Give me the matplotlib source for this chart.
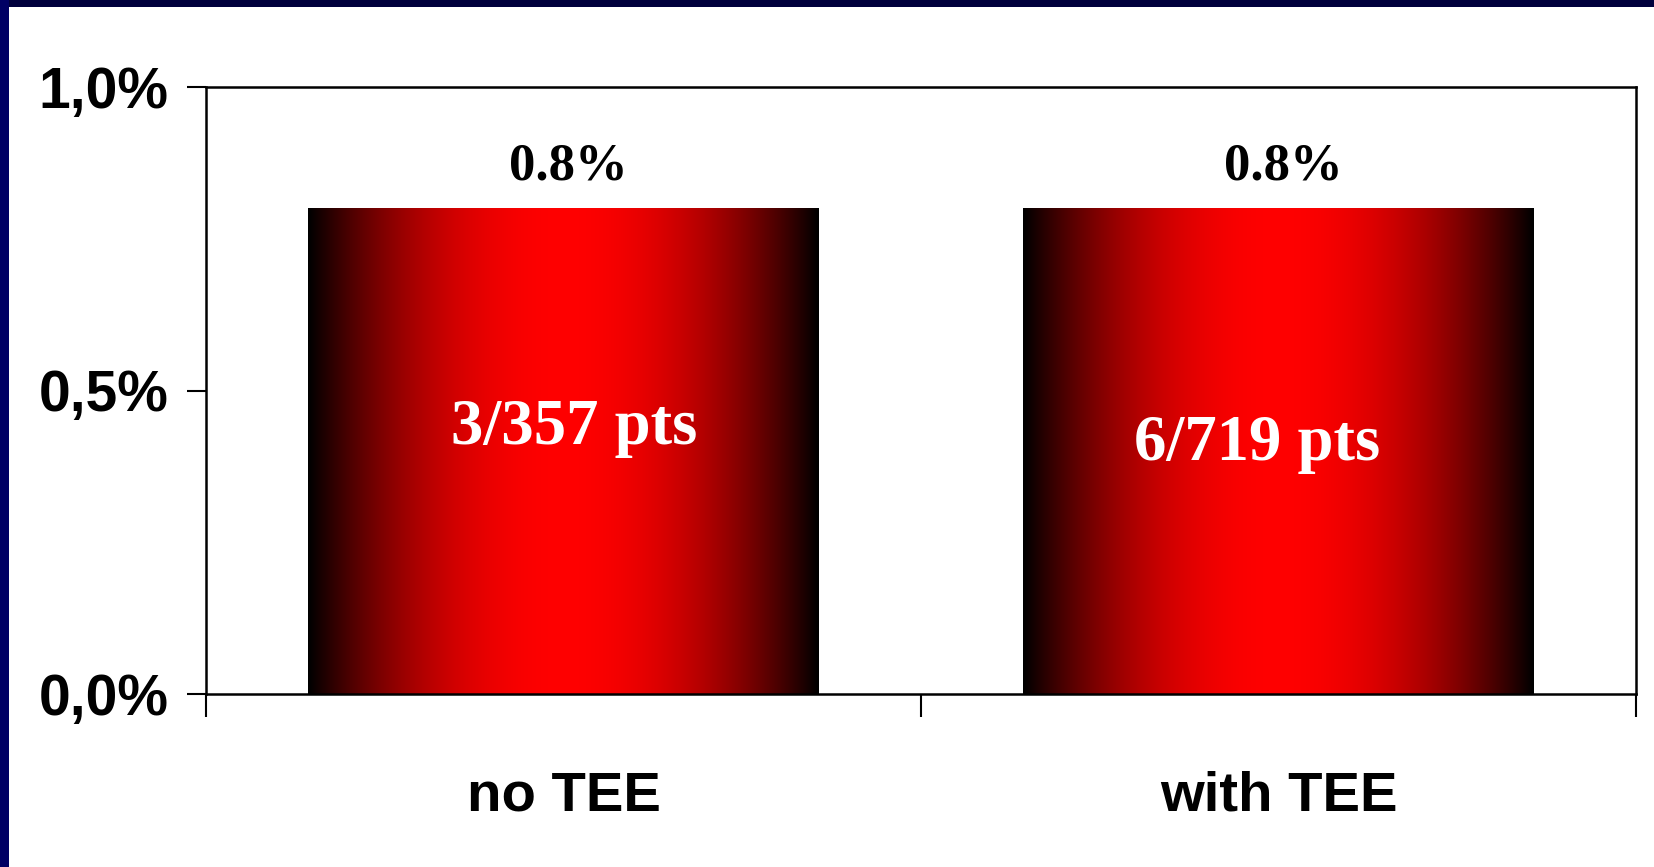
import matplotlib.pyplot as plt
import numpy as np
from matplotlib.patches import Rectangle

# event rate per group (percent)
categories = ["no TEE", "with TEE"]
rates = [0.8, 0.8]
counts = ["3/357 pts", "6/719 pts"]
y_ticks = [0.0, 0.5, 1.0]
y_tick_labels = ["0,0%", "0,5%", "1,0%"]

SANS = "Liberation Sans"
SERIF = "Liberation Serif"

fig = plt.figure(figsize=(16.54, 8.67), dpi=100)
fig.patch.set_facecolor("white")

# dark frame along top and left edge
fig.patches.append(Rectangle((0, 1 - 7 / 867), 1, 7 / 867, transform=fig.transFigure,
                             facecolor="#00003c", edgecolor="none", zorder=0))
fig.patches.append(Rectangle((0, 0), 9 / 1654, 1, transform=fig.transFigure,
                             facecolor="#000064", edgecolor="none", zorder=0))

ax = fig.add_axes([206 / 1654, 1 - 694 / 867, 1430 / 1654, 607 / 867])
x = np.arange(len(categories))
bars = ax.bar(x, rates, width=0.714, color="none", edgecolor="none")

# horizontal shading: black at the edges, red in the middle
s = np.linspace(-1, 1, 512)
t = 1 - np.abs(s)
grad = np.zeros((1, len(s), 3))
grad[0, :, 0] = 1 - (1 - t) ** 2
for b in bars:
    x0, w, h = b.get_x(), b.get_width(), b.get_height()
    im = ax.imshow(grad, extent=[x0, x0 + w, 0, h], aspect="auto",
                   interpolation="bilinear", zorder=2)
    im.set_clip_path(b)

ax.set_xlim(-0.5, 1.5)
ax.set_ylim(0, 1.0)

# value above each bar and counts inside
inner_pos = [(0.015, 0.412), (-0.03, 0.385)]
for i, (r, c) in enumerate(zip(rates, counts)):
    ax.text(x[i] + 0.007, r + 0.047, f"{r:.1f}%", ha="center", va="baseline",
            fontsize=38, fontweight="bold", family=SERIF, color="black", zorder=3)
    dx, yy = inner_pos[i]
    ax.text(x[i] + dx, yy, c, ha="center", va="baseline",
            fontsize=46.5, fontweight="bold", family=SERIF, color="white", zorder=3)

ax.set_yticks(y_ticks)
ax.set_yticklabels(y_tick_labels, fontsize=41, fontweight="bold", family=SANS)
ax.tick_params(axis="y", direction="out", length=14, width=1.5, pad=13)

# category boundaries as major ticks, names on minor ticks
ax.set_xticks([-0.5, 0.5, 1.5])
ax.set_xticklabels([])
ax.set_xticks(x, minor=True)
ax.set_xticklabels(categories, minor=True, fontsize=40.5, fontweight="bold", family=SANS)
ax.tick_params(axis="x", which="major", direction="out", length=16.5, width=1.5)
ax.tick_params(axis="x", which="minor", length=0, pad=55)

for sp in ax.spines.values():
    sp.set_linewidth(1.8)
    sp.set_color("black")

ax.set_facecolor("white")

fig.savefig("out.png", dpi=100, facecolor=fig.get_facecolor())
